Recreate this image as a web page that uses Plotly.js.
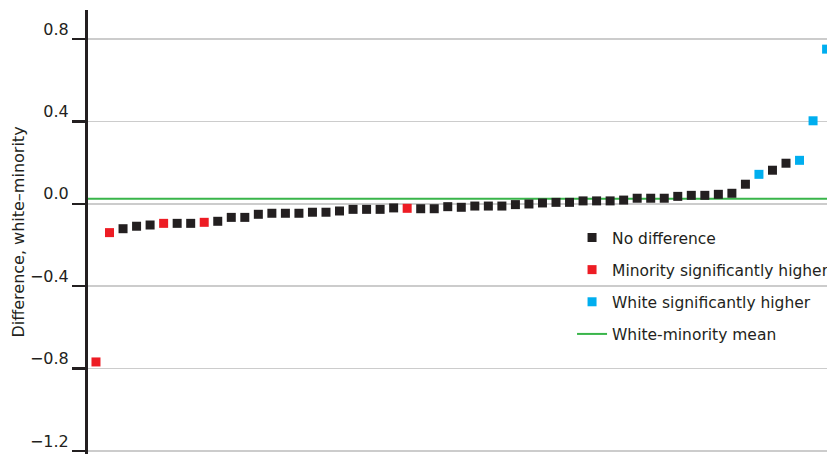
<!DOCTYPE html>
<html>
<head>
<meta charset="utf-8">
<script src="https://cdn.plot.ly/plotly-3.0.1.min.js"></script>
<style>html,body{margin:0;padding:0;background:#fff;}#chart{width:827px;height:454px;}</style>
</head>
<body>
<div id="chart"></div>
<script>
// Differences (white - minority), sorted, one per unit
const values = [-0.768,-0.140,-0.121,-0.109,-0.103,-0.095,-0.095,-0.095,-0.090,-0.085,
  -0.066,-0.066,-0.051,-0.046,-0.046,-0.046,-0.041,-0.041,-0.035,-0.027,
  -0.027,-0.027,-0.020,-0.022,-0.024,-0.024,-0.014,-0.017,-0.011,-0.011,
  -0.011,-0.004,-0.001,0.004,0.007,0.007,0.014,0.014,0.014,0.018,
  0.027,0.027,0.027,0.036,0.041,0.041,0.046,0.051,0.095,0.143,
  0.163,0.197,0.211,0.403,0.751];
// N = no difference, M = minority significantly higher, W = white significantly higher
const groups = ['M','M','N','N','N','M','N','N','M','N',
  'N','N','N','N','N','N','N','N','N','N',
  'N','N','N','M','N','N','N','N','N','N',
  'N','N','N','N','N','N','N','N','N','N',
  'N','N','N','N','N','N','N','N','N','W',
  'N','N','W','W','W'];
const groupNames = {N: 'No difference', M: 'Minority significantly higher', W: 'White significantly higher'};
const groupColors = {N: '#231f20', M: '#ed1c24', W: '#00aeef'};
const groupOrder = ['N','M','W'];
const meanValue = 0.025;
const meanName = 'White-minority mean';
const yTicks = [0.8, 0.4, 0.0, -0.4, -0.8, -1.2];
const yTickLabels = ['0.8', '0.4', '0.0', '\u22120.4', '\u22120.8', '\u22121.2'];
const yTitle = 'Difference, white\u2013minority';

const idx = values.map((v, i) => i + 1);
const xRange = [0.41, 55.03];

const traces = [];
traces.push({
  type: 'scatter', mode: 'lines', x: [xRange[0] - 1, xRange[1] + 1], y: [meanValue, meanValue],
  name: meanName, legendgroup: 'g3', legendrank: 4,
  line: {color: '#39b54a', width: 2}
});
groupOrder.forEach((g, k) => {
  const xs = [], ys = [];
  values.forEach((v, i) => { if (groups[i] === g) { xs.push(idx[i]); ys.push(v); } });
  traces.push({
    type: 'scatter', mode: 'markers', x: xs, y: ys, name: groupNames[g],
    legendgroup: 'g' + k, legendrank: k + 1,
    marker: {symbol: 'square', size: 9, color: groupColors[g], line: {width: 0}}
  });
});

const font = 'DejaVu Sans, Open Sans, sans-serif';
const layout = {
  width: 827, height: 454,
  margin: {l: 88, r: 0, t: 10, b: 0, pad: 0, autoexpand: false},
  paper_bgcolor: '#fff', plot_bgcolor: '#fff',
  showlegend: true,
  legend: {
    x: 0.655, xanchor: 'left', y: 0.525, yanchor: 'top',
    bgcolor: 'rgba(0,0,0,0)', borderwidth: 0,
    traceorder: 'grouped', tracegroupgap: 9,
    font: {family: font, size: 15.5, color: '#231f20'},
    itemwidth: 30
  },
  xaxis: {range: xRange, visible: false, showgrid: false, zeroline: false, fixedrange: true},
  yaxis: {
    range: [-1.215, 0.941],
    tickmode: 'array', tickvals: yTicks, ticktext: yTickLabels,
    ticks: 'outside', ticklen: 13, tickwidth: 2.5, tickcolor: '#231f20',
    ticklabelposition: 'outside', ticklabelshift: -10,
    showline: true, linewidth: 3, linecolor: '#231f20',
    showgrid: true, gridcolor: '#cccccc', gridwidth: 1.5,
    zeroline: false,
    ticklabeloverflow: 'allow',
    tickfont: {family: font, size: 16, color: '#231f20'},
    title: {text: yTitle, font: {family: font, size: 16, color: '#231f20'}, standoff: 2},
    automargin: false
  }
};

Plotly.newPlot('chart', traces, layout, {displayModeBar: false, staticPlot: true});
</script>
</body>
</html>
